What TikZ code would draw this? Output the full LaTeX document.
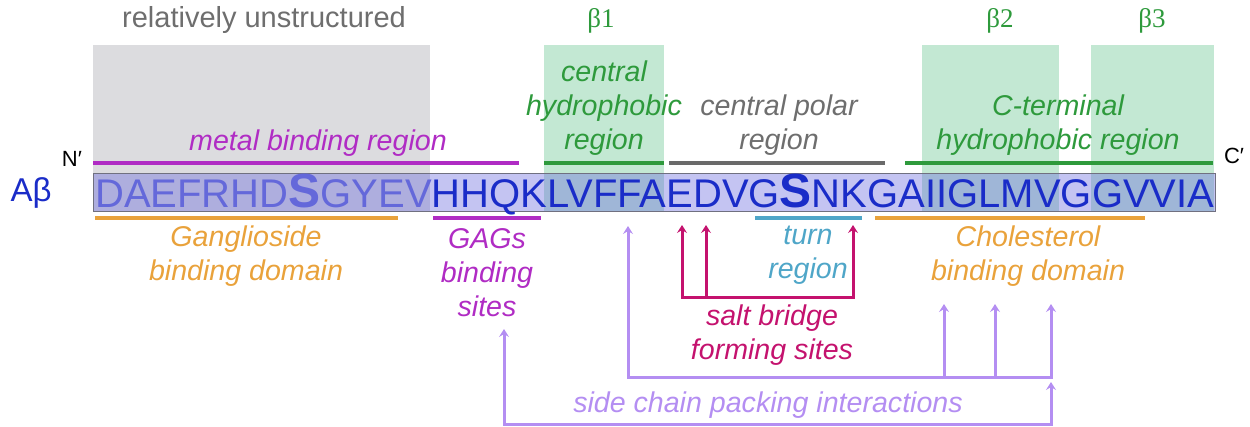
\documentclass[tikz,border=0pt]{standalone}
\usepackage{fontspec}
\setmainfont{Liberation Sans}
\newfontfamily\betafont{Liberation Serif}
\usetikzlibrary{arrows.meta}
\definecolor{cpurple}{HTML}{B02CC4}
\definecolor{cgreen}{HTML}{2E9A3C}
\definecolor{cgraytext}{HTML}{6E6E6E}
\definecolor{cgrayline}{HTML}{6A6A6A}
\definecolor{cgreenbox}{HTML}{C3E8D3}
\definecolor{cgraybox}{HTML}{DCDCDF}
\definecolor{corange}{HTML}{E9A23B}
\definecolor{ccyan}{HTML}{4FA6C8}
\definecolor{csalt}{HTML}{C4126E}
\definecolor{clav}{HTML}{B48EF2}
\definecolor{cseq}{HTML}{1A2CC8}
\definecolor{cseqlight}{HTML}{6468DA}
\definecolor{cseqfill}{HTML}{6B6BDE}
\definecolor{cseqborder}{HTML}{707080}
\begin{document}
\begin{tikzpicture}[x=1pt,y=-1pt,
  lab/.style={font=\fontsize{28.6}{34}\selectfont\itshape, align=center, inner sep=0pt},
  plain/.style={font=\fontsize{29}{34}\selectfont, align=center, inner sep=0pt},
  betalab/.style={font=\fontsize{27}{30}\selectfont\betafont, text=cgreen, inner sep=0pt},
  bar/.style={line width=3.2pt},
  conn/.style={line width=3pt, line join=miter, line cap=butt},
  ah/.tip={Stealth[length=8pt,width=10pt,inset=3pt]},
  tip/.style={-ah}
]
\useasboundingbox (0,0) rectangle (1250,426);
% background regions
\fill[cgraybox] (93,45) rectangle (430,211);
\fill[cgreenbox] (544,45) rectangle (664,211);
\fill[cgreenbox] (922,45) rectangle (1059,211);
\fill[cgreenbox] (1091,45) rectangle (1214,211);
% top labels
\node[plain, text=cgraytext] (unstr) at (264,20) {relatively unstructured};
\node[betalab] (b1) at (601,21) {β1};
\node[betalab] (b2) at (1000,21) {β2};
\node[betalab] (b3) at (1152,21) {β3};
% region labels above sequence
\node[lab, text=cpurple] (metal) at (318,143) {metal binding region};
\node[lab, text=cgreen] (chyd) at (604,108) {central\\hydrophobic\\region};
\node[lab, text=cgraytext] (cpol) at (779,125) {central polar\\region};
\node[lab, text=cgreen] (cterm) at (1058,125) {C-terminal\\hydrophobic region};
\draw[bar, cpurple] (93,163) -- (519,163);
\draw[bar, cgreen] (544,163) -- (664,163);
\draw[bar, cgrayline] (669,163) -- (885,163);
\draw[bar, cgreen] (905,163) -- (1213,163);
% termini
\node[plain, font=\fontsize{22}{26}\selectfont] (nterm) at (72,159) {N′};
\node[plain, font=\fontsize{22}{26}\selectfont] (cterm2) at (1234,156) {C′};
\node[plain, font=\fontsize{33}{36}\selectfont, text=cseq] (abeta) at (31,193) {Aβ};
% sequence
\draw[fill=cseqfill, fill opacity=0.4, draw=cseqborder, line width=1pt] (93,173) rectangle (1215,211);
\node[anchor=base west, inner sep=0pt, font=\fontsize{40}{40}\selectfont] (seq) at (95,207)
 {{\color{cseqlight}DAEFRHD{\bfseries\fontsize{48}{48}\selectfont S}GYEV}{\color{cseq}HHQKLVFFAEDVG{\bfseries\fontsize{48}{48}\selectfont S}NKGAIIGLMVGGVVIA}};
% bars below sequence
\draw[bar, corange] (95,218) -- (398,218);
\draw[bar, cpurple] (433,218) -- (541,218);
\draw[bar, ccyan] (755,218) -- (862,218);
\draw[bar, corange] (875,218) -- (1145,218);
\node[lab, text=corange] (gang) at (246,256) {Ganglioside\\binding domain};
\node[lab, text=cpurple] (gags) at (487,273) {GAGs\\binding\\sites};
\node[lab, text=ccyan] (turn) at (808,255) {turn\\region};
\node[lab, text=corange] (chol) at (1028,256) {Cholesterol\\binding domain};
\node[lab, text=csalt] (salt) at (772,335) {salt bridge\\forming sites};
\node[lab, text=clav] (side) at (768,405) {side chain packing interactions};
% salt bridge connectors
\coordinate (sE) at (682,225);
\coordinate (sD) at (706,225);
\coordinate (sK) at (853,225);
\coordinate (sL) at (682,297);
\coordinate (sM) at (706,297);
\coordinate (sR) at (853,297);
\draw[conn, csalt, ah-ah] (sE) -- (sL) -- (sR) -- (sK);
\draw[conn, csalt, tip] (sM) -- (sD);
% side chain connectors
\coordinate (pF) at (628,226);
\coordinate (pFb) at (628,377);
\coordinate (pR) at (1051,377);
\coordinate (pRt) at (1051,304);
\coordinate (pI) at (944,304);
\coordinate (pIb) at (944,377);
\coordinate (pM) at (995,304);
\coordinate (pMb) at (995,377);
\draw[conn, clav, ah-ah] (pF) -- (pFb) -- (pR) -- (pRt);
\draw[conn, clav, tip] (pIb) -- (pI);
\draw[conn, clav, tip] (pMb) -- (pM);
\coordinate (gT) at (504,329);
\coordinate (gB) at (504,424);
\coordinate (rB) at (1051,424);
\coordinate (rT) at (1051,382);
\draw[conn, clav, ah-ah] (gT) -- (gB) -- (rB) -- (rT);
\end{tikzpicture}
\end{document}
